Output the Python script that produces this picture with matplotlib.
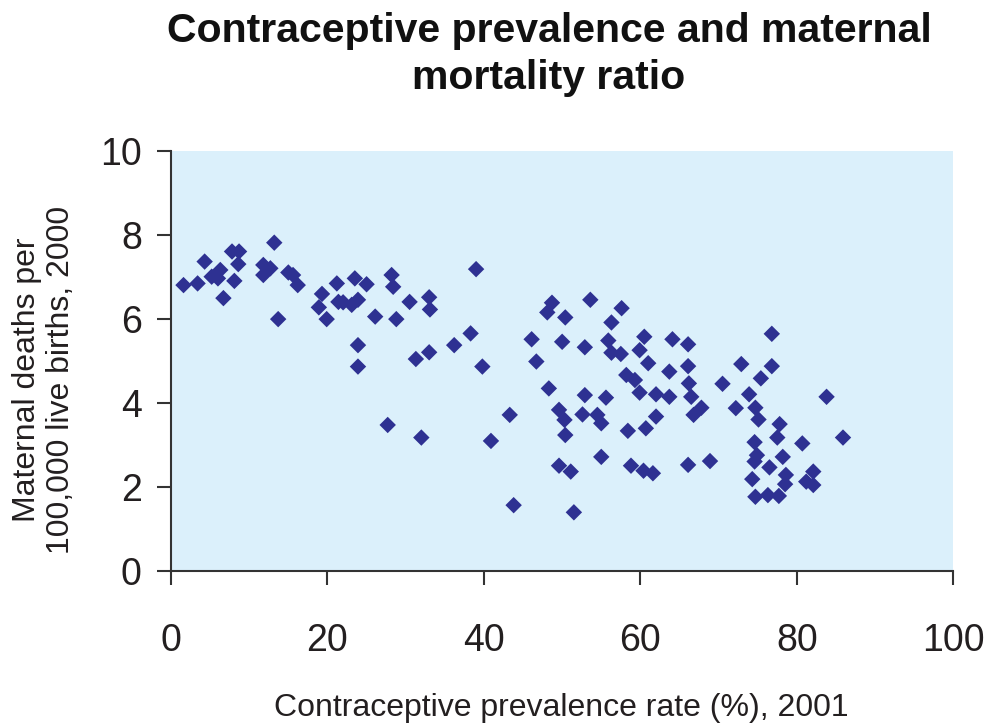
import matplotlib
matplotlib.use("Agg")
import matplotlib.pyplot as plt

# Contraceptive prevalence rate (%), 2001
prevalence = [
    1.6, 3.4, 4.3, 5.2, 6.3, 6.0, 8.1, 6.7, 7.8, 8.7, 8.6, 13.2, 11.8, 12.7, 11.8,
    15.0, 15.6, 16.2, 13.7, 19.3, 21.2, 18.9, 19.9, 21.4, 22.0, 23.1, 23.9, 23.5,
    25.0, 23.9, 23.9, 28.2, 28.4, 26.1, 28.8, 30.5, 33.0, 33.1, 39.0, 38.3, 36.2,
    33.0, 31.3, 39.8, 27.7, 32.0, 40.9,
    48.7, 48.1, 50.4, 53.6, 57.6, 56.3, 46.1, 50.0, 52.9, 55.9, 56.3, 57.5, 60.5,
    59.9, 61.0, 64.1, 63.7, 46.7, 58.2, 59.3, 59.9, 62.0, 63.7, 48.3, 52.9, 55.6,
    43.3, 49.6, 50.3, 52.6, 54.5, 55.0, 50.4, 58.4, 60.7, 62.0, 55.0, 49.6, 51.1,
    58.8, 60.4, 61.6, 43.8, 51.5,
    66.1, 66.1, 66.2, 66.5, 67.8, 66.8, 76.8, 72.9, 76.8, 75.4, 70.5, 73.9, 72.2,
    74.7, 75.1, 77.8, 83.8, 85.9, 77.5, 74.6, 80.7, 74.9, 74.6, 78.2, 76.5, 66.1,
    68.9, 74.3, 78.6, 78.5, 82.1, 81.2, 82.1, 74.7, 76.3, 77.7,
]

# Maternal deaths per 100,000 live births, 2000 (chart scale)
mortality = [
    6.80, 6.84, 7.36, 7.00, 7.16, 6.96, 6.90, 6.49, 7.60, 7.60, 7.30, 7.81, 7.28,
    7.20, 7.04, 7.10, 7.04, 6.80, 5.99, 6.59, 6.84, 6.27, 5.99, 6.40, 6.39, 6.33,
    6.45, 6.96, 6.82, 5.37, 4.86, 7.04, 6.76, 6.05, 5.99, 6.40, 6.51, 6.22, 7.18,
    5.65, 5.37, 5.20, 5.04, 4.86, 3.47, 3.17, 3.09,
    6.38, 6.15, 6.03, 6.45, 6.25, 5.91, 5.51, 5.45, 5.32, 5.48, 5.19, 5.16, 5.57,
    5.25, 4.94, 5.51, 4.74, 4.98, 4.66, 4.54, 4.24, 4.20, 4.14, 4.34, 4.18, 4.12,
    3.71, 3.83, 3.59, 3.72, 3.71, 3.51, 3.23, 3.33, 3.39, 3.67, 2.71, 2.50, 2.36,
    2.50, 2.38, 2.32, 1.56, 1.39,
    5.39, 4.87, 4.46, 4.14, 3.88, 3.71, 5.64, 4.92, 4.87, 4.58, 4.45, 4.20, 3.87,
    3.88, 3.60, 3.49, 4.14, 3.17, 3.17, 3.06, 3.03, 2.75, 2.60, 2.71, 2.46, 2.52,
    2.61, 2.18, 2.28, 2.06, 2.36, 2.12, 2.04, 1.76, 1.80, 1.78,
]

x_ticks = [0, 20, 40, 60, 80, 100]
y_ticks = [0, 2, 4, 6, 8, 10]

title = "Contraceptive prevalence and maternal\nmortality ratio"
x_label = "Contraceptive prevalence rate (%), 2001"
y_label = "Maternal deaths per\n100,000 live births, 2000"

W, H = 989, 724
fig = plt.figure(figsize=(W / 100, H / 100), dpi=100)
fig.patch.set_facecolor("white")

plt.rcParams["font.family"] = ["Liberation Sans", "DejaVu Sans"]

left, right, top, bottom = 171, 953.3, 150.7, 570.7
ax = fig.add_axes([left / W, 1 - bottom / H, (right - left) / W, (bottom - top) / H])
ax.set_facecolor("#DBF0FB")

ax.scatter(prevalence, mortality, marker="D", s=70, color="#2E3192",
           edgecolors="none", zorder=3, clip_on=False)

ax.set_xlim(0, 100)
ax.set_ylim(0, 10)
ax.set_xticks(x_ticks)
ax.set_yticks(y_ticks)
ax.set_xticklabels([str(t) for t in x_ticks])
ax.set_yticklabels([str(t) for t in y_ticks])

for s in ["top", "right"]:
    ax.spines[s].set_visible(False)
for s in ["left", "bottom"]:
    ax.spines[s].set_color("#333333")
    ax.spines[s].set_linewidth(1.5)

ax.tick_params(axis="both", direction="out", length=10, width=1.5,
               color="#333333", labelsize=27, labelcolor="#231F20")
ax.tick_params(axis="x", pad=28)
ax.tick_params(axis="y", pad=11)

fig.text(549 / W, 1 - 12 / H, title, ha="center", va="top",
         fontsize=29.5, fontweight="bold", color="#111111", linespacing=1.3)

fig.text(561 / W, 8 / H, x_label, ha="center", va="baseline",
         fontsize=23, color="#231F20")

fig.text(44 / W, 1 - 380 / H, y_label, ha="center", va="center",
         rotation=90, fontsize=23, color="#231F20", linespacing=1.15)

fig.savefig("out.png", dpi=100)
